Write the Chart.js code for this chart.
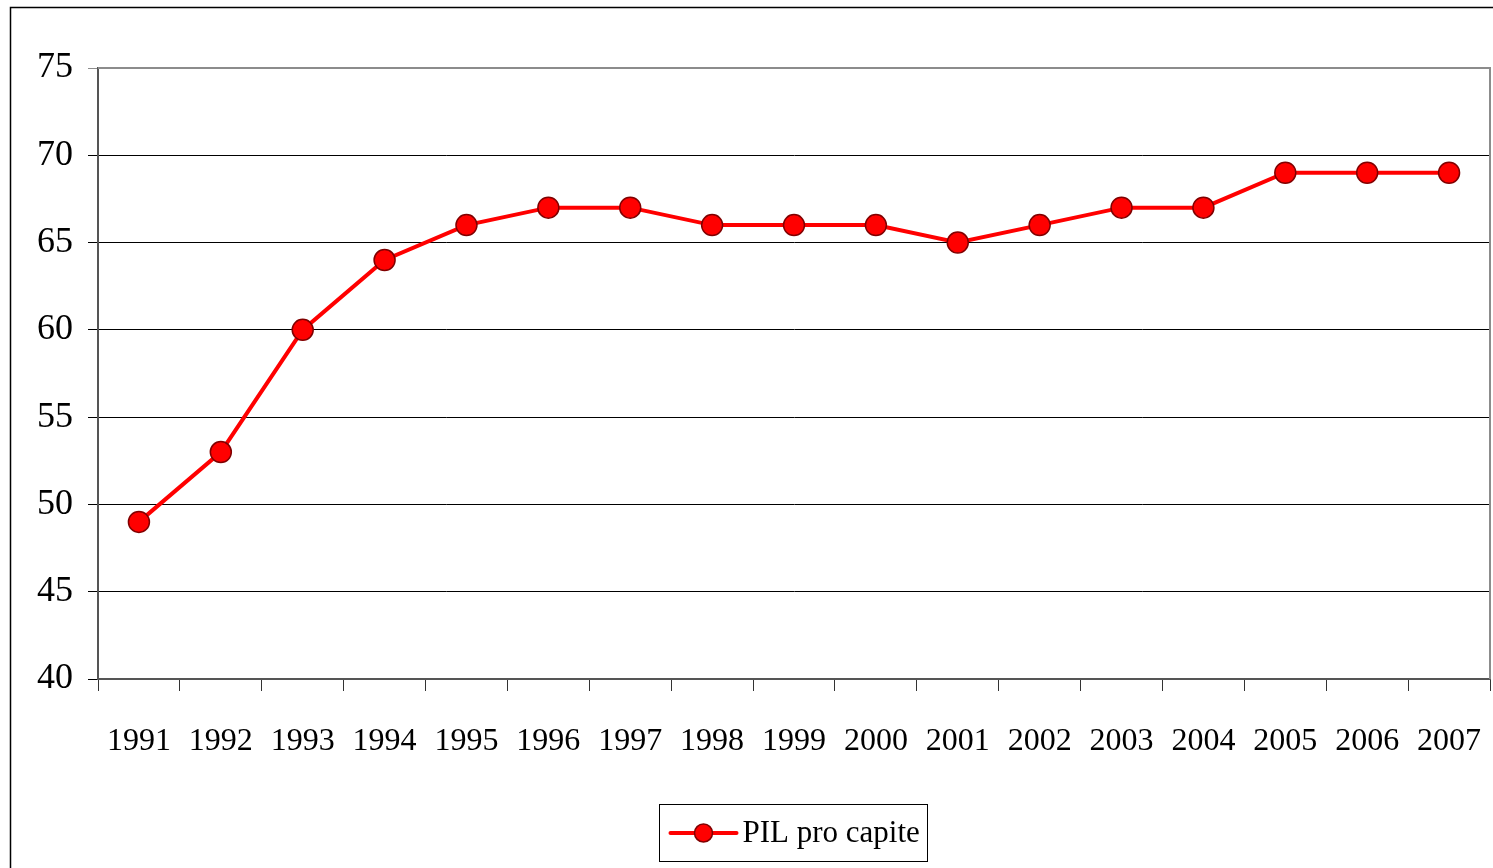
<!DOCTYPE html>
<html>
<head>
<meta charset="utf-8">
<script src="https://cdn.jsdelivr.net/npm/chart.js@4"></script>
<style>
  html, body { margin: 0; padding: 0; background: #fff; }
  #wrap { width: 1493px; height: 868px; }
</style>
</head>
<body>
<div id="wrap"><canvas id="myChart" width="1493" height="868"></canvas></div>
<script>
const years = ["1991","1992","1993","1994","1995","1996","1997","1998","1999","2000","2001","2002","2003","2004","2005","2006","2007"];
const pilValues = [49, 53, 60, 64, 66, 67, 67, 66, 66, 66, 65, 66, 67, 67, 69, 69, 69];
const seriesLabel = "PIL pro capite";
const yTicks = [40, 45, 50, 55, 60, 65, 70, 75];

const FONT = "'Liberation Serif', 'Times New Roman', serif";

// outer frame, plot frame and legend box
const framePlugin = {
    id: 'frame',
    afterDraw(chart) {
        const ctx = chart.ctx;
        const a = chart.chartArea;
        ctx.save();
        // outer frame (runs off the right/bottom edge)
        ctx.strokeStyle = '#000';
        ctx.lineWidth = 1.5;
        ctx.beginPath();
        ctx.moveTo(10.5, chart.height + 5);
        ctx.lineTo(10.5, 7.5);
        ctx.lineTo(chart.width + 5, 7.5);
        ctx.stroke();
        // plot frame top/right
        ctx.strokeStyle = '#8c8c8c';
        ctx.lineWidth = 2;
        ctx.beginPath();
        ctx.moveTo(a.left, a.top);
        ctx.lineTo(a.right, a.top);
        ctx.lineTo(a.right, a.bottom);
        ctx.stroke();

        // legend
        const lx = 659.5, ly = 804.5, lw = 268, lh = 57;
        ctx.strokeStyle = '#000';
        ctx.lineWidth = 1;
        ctx.strokeRect(lx, ly, lw, lh);
        const cy = ly + lh / 2;
        ctx.strokeStyle = '#ff0000';
        ctx.lineWidth = 4;
        ctx.lineCap = 'round';
        ctx.beginPath();
        ctx.moveTo(lx + 11, cy);
        ctx.lineTo(lx + 77, cy);
        ctx.stroke();
        ctx.beginPath();
        ctx.arc(lx + 44, cy, 9, 0, Math.PI * 2);
        ctx.fillStyle = '#ff0000';
        ctx.fill();
        ctx.strokeStyle = '#800000';
        ctx.lineWidth = 1.5;
        ctx.stroke();
        ctx.fillStyle = '#000';
        ctx.font = '31px ' + FONT;
        ctx.textBaseline = 'middle';
        ctx.textAlign = 'left';
        ctx.fillText(seriesLabel, lx + 83, cy + 1);
        ctx.restore();
    }
};

document.addEventListener('DOMContentLoaded', e => {
    let ctx = document.getElementById('myChart').getContext('2d');
    new Chart(ctx, {
        type: 'line',
        data: {
            labels: years,
            datasets: [{
                label: seriesLabel,
                data: pilValues,
                borderColor: '#ff0000',
                borderWidth: 4,
                backgroundColor: '#ff0000',
                pointBackgroundColor: '#ff0000',
                pointBorderColor: '#800000',
                pointBorderWidth: 1.5,
                pointRadius: 10.5,
                tension: 0
            }]
        },
        options: {
            responsive: false,
            animation: false,
            layout: { autoPadding: false, padding: { top: 68, right: 3, left: 0, bottom: 0 } },
            plugins: {
                legend: { display: false },
                tooltip: { enabled: false }
            },
            scales: {
                x: {
                    offset: true,
                    afterFit: s => {
                        s.height = 189;
                        s.paddingLeft = 0;
                        s.paddingRight = 0;
                    },
                    grid: {
                        offset: true,
                        drawOnChartArea: false,
                        tickLength: 12,
                        color: '#333'
                    },
                    border: { color: '#555', width: 2 },
                    ticks: {
                        color: '#000',
                        padding: 31,
                        maxRotation: 0,
                        autoSkip: false,
                        font: { family: FONT, size: 32 }
                    }
                },
                y: {
                    min: 40,
                    max: 75,
                    afterFit: s => { s.width = 98; },
                    afterBuildTicks: s => { s.ticks = yTicks.map(v => ({ value: v })); },
                    grid: {
                        color: c => (c.tick && c.tick.value === 75) ? '#8c8c8c' : '#000',
                        lineWidth: 1,
                        tickLength: 10
                    },
                    border: { color: '#555', width: 2 },
                    ticks: {
                        color: '#000',
                        padding: 15,
                        font: { family: FONT, size: 36 }
                    }
                }
            }
        },
        plugins: [framePlugin]
    });
});
</script>
</body>
</html>
